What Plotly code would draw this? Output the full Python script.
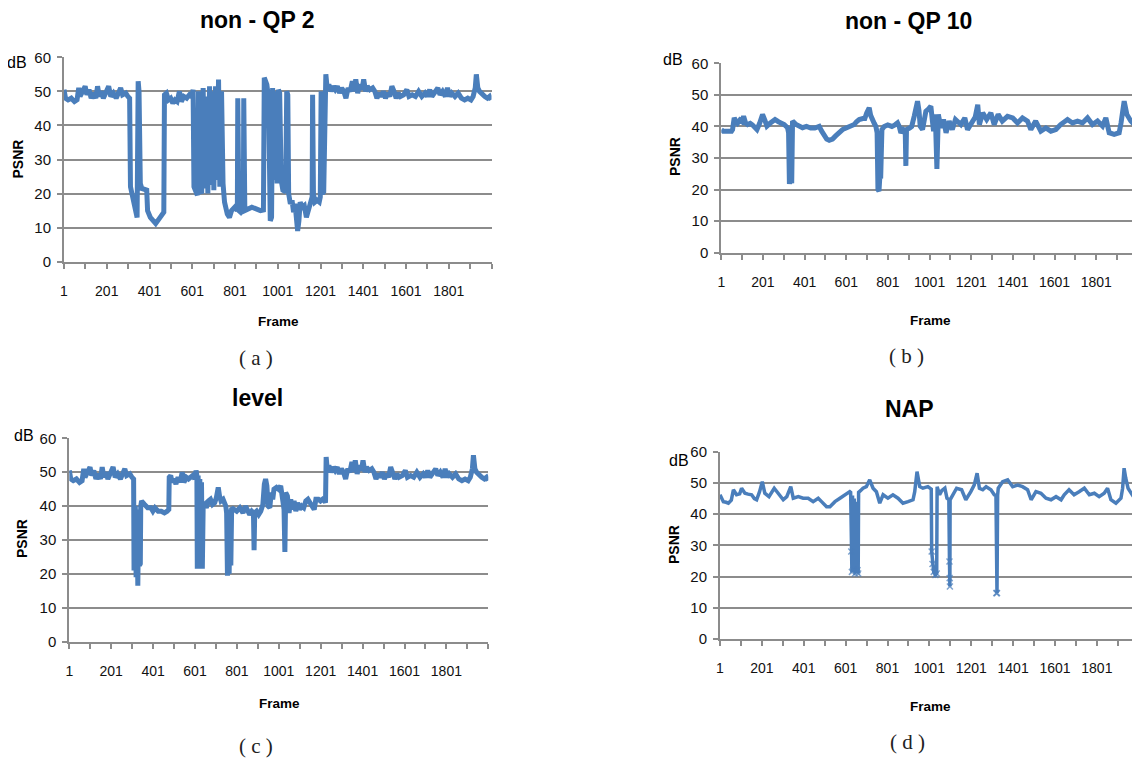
import plotly.graph_objects as go

# ---------------- data (frame, PSNR dB) ----------------
COMMON_START = [(1, 50.5), (8, 48), (20, 47.5), (35, 48), (50, 47), (62, 47.5), (70, 51), (76, 48.5),
                (88, 50), (100, 51.5), (108, 49), (118, 50.5), (128, 48), (140, 49.5), (150, 48),
                (158, 51.5), (166, 48.5), (175, 50), (185, 48), (196, 50), (210, 51.5), (220, 48.5),
                (232, 49.5), (245, 48), (255, 49.5), (266, 51), (275, 49), (290, 49.5), (300, 48.5),
                (306, 48)]

COMMON_END = [(1232, 51), (1240, 52), (1250, 50), (1260, 51.5), (1270, 50.5), (1280, 51.5), (1290, 49.5),
              (1300, 51), (1310, 50), (1320, 48), (1330, 51), (1340, 50), (1350, 53), (1358, 50),
              (1366, 53.5), (1375, 49.5), (1385, 52), (1395, 50.5), (1403, 53.5), (1412, 50), (1420, 51.5),
              (1432, 50.5), (1445, 51), (1455, 50), (1465, 48), (1475, 49.5), (1485, 48.5), (1495, 50),
              (1505, 48), (1515, 49.5), (1525, 48.5), (1535, 51.5), (1545, 50), (1555, 48), (1565, 49.5),
              (1575, 48.5), (1590, 49), (1605, 50.5), (1615, 48.5), (1630, 49), (1645, 48.5), (1660, 50),
              (1675, 48.5), (1690, 49.5), (1700, 48.5), (1712, 50.5), (1722, 48.5), (1735, 49.5),
              (1750, 51), (1760, 49), (1772, 50), (1785, 48.5), (1795, 51), (1805, 48.5), (1815, 49.5),
              (1830, 48.5), (1845, 49.5), (1860, 48), (1875, 47.5), (1890, 48), (1905, 47.5),
              (1915, 48.5), (1925, 51), (1930, 55), (1937, 51), (1945, 50), (1958, 49), (1970, 48.5),
              (1982, 48), (1992, 48.5), (2000, 47.5)]

A_MIDDLE = [(308, 48), (312, 22), (325, 18), (343, 13), (348, 53), (352, 50), (358, 23), (365, 21.5),
            (388, 21), (392, 15), (405, 13), (420, 12), (430, 11.2), (445, 12.5), (460, 14), (468, 14.5),
            (471, 49), (480, 49.5), (490, 47.5), (500, 48), (510, 46.5), (520, 47.5), (530, 47),
            (541, 50), (550, 47), (562, 48.5), (575, 48), (588, 49), (598, 48.5), (605, 50.5),
            (609, 22), (618, 20), (625, 19.5), (630, 50), (637, 21), (645, 20), (652, 51), (660, 21.5),
            (668, 48.5), (674, 20), (682, 51.5), (690, 22.5), (696, 50), (702, 21), (710, 51.5),
            (716, 24), (724, 53.5), (730, 22), (738, 50), (745, 23), (752, 17.5), (765, 14), (775, 13),
            (785, 15), (800, 16), (812, 15), (814, 48), (819, 15), (828, 14.5), (840, 15.5), (842, 48),
            (847, 15), (860, 15.5), (880, 16), (900, 15.5), (920, 15), (934, 15.2), (938, 54), (950, 52),
            (958, 48), (966, 12), (972, 13), (977, 51), (985, 24), (992, 50), (998, 23), (1004, 50.5),
            (1010, 49.5), (1017, 24), (1025, 21), (1038, 20.5), (1043, 50), (1048, 49), (1052, 20),
            (1060, 17), (1068, 18), (1075, 14.5), (1082, 17), (1088, 12), (1094, 9), (1100, 12),
            (1106, 17.5), (1115, 16), (1125, 16.5), (1135, 13), (1145, 15), (1155, 18), (1162, 19),
            (1164, 49), (1168, 20), (1175, 17.5), (1185, 18), (1195, 17.5), (1200, 19), (1204, 50),
            (1210, 20), (1216, 20.5), (1220, 50.5), (1226, 55)]

C_MIDDLE = [(308, 48), (310, 21), (316, 40), (320, 19), (325, 38), (328, 16.5), (332, 39), (336, 22.5),
            (340, 23), (342, 40), (346, 41.5), (360, 40.5), (375, 39.5), (390, 39.5), (400, 38.5),
            (410, 39.5), (425, 38.5), (440, 38.5), (455, 38), (468, 38.5), (476, 39), (478, 48.5),
            (485, 49), (492, 47), (500, 48), (510, 46.5), (520, 48.5), (530, 47), (540, 50), (548, 47),
            (560, 48.5), (570, 48), (580, 48.5), (590, 49), (600, 48), (606, 50.5), (610, 49),
            (612, 21.5), (616, 49), (620, 21.5), (624, 48), (628, 21.5), (632, 47), (636, 21.5),
            (640, 40), (648, 40.5), (655, 39.5), (665, 41.5), (675, 42), (685, 40.5), (695, 41),
            (703, 42.5), (712, 45.5), (718, 43), (725, 41.5), (735, 42), (748, 40), (752, 38),
            (756, 19.5), (760, 38), (764, 20), (768, 39), (772, 22.5), (776, 39.5), (790, 39),
            (800, 38.5), (815, 39.5), (830, 38), (842, 40), (852, 38.5), (862, 37.5), (872, 38.5),
            (880, 38), (883, 27), (886, 38), (895, 38.5), (905, 37.5), (915, 38.5), (925, 40.5),
            (932, 46.5), (938, 48), (944, 46), (950, 40), (958, 39.5), (965, 44), (972, 42), (978, 45),
            (990, 45.5), (1000, 45), (1010, 46), (1020, 41), (1026, 39), (1030, 26.5), (1034, 44),
            (1042, 43), (1050, 38), (1058, 42), (1066, 39), (1074, 41.5), (1082, 38.5), (1090, 41),
            (1100, 39), (1110, 40), (1120, 39.5), (1130, 41.5), (1140, 42), (1150, 41), (1160, 40),
            (1170, 39), (1178, 42), (1190, 42), (1200, 41.5), (1210, 42), (1220, 41.5), (1224, 41),
            (1227, 54.5)]

B_POINTS = [(1, 39), (10, 38.5), (30, 38.5), (50, 38.5), (55, 39), (63, 42.7), (72, 41.5), (79, 41),
            (90, 42), (100, 41.5), (108, 43.2), (118, 41), (127, 40.6), (140, 41), (150, 40.5),
            (160, 39.5), (172, 39), (185, 41), (199, 43.8), (210, 42), (220, 40.1), (235, 41),
            (245, 41.5), (259, 42.2), (275, 41.5), (290, 41), (303, 40.6), (319, 39.6), (324, 38),
            (328, 21.8), (334, 24), (339, 22), (343, 41.7), (360, 40.6), (375, 40), (391, 39.6),
            (410, 40), (430, 39.5), (450, 39.5), (471, 40), (483, 38.5), (495, 37), (507, 36),
            (519, 35.6), (535, 36), (550, 37), (559, 37.5), (570, 38.5), (583, 39), (600, 39.5),
            (615, 40), (630, 40.5), (639, 40.6), (650, 41.5), (663, 42.2), (680, 42.5), (690, 42.5),
            (699, 44.3), (711, 45.9), (718, 43.5), (724, 42.2), (735, 41), (743, 40), (749, 38),
            (753, 20), (758, 19.5), (762, 24), (766, 23.5), (772, 39), (783, 40), (800, 40.5),
            (820, 40), (835, 40.5), (847, 41.1), (855, 40), (863, 38), (875, 39), (884, 38.5),
            (887, 27.5), (890, 39), (905, 39.5), (915, 40), (927, 43.2), (935, 46.5), (943, 48),
            (950, 45), (956, 40), (967, 39), (975, 43), (983, 44.8), (995, 45.5), (1007, 46.4),
            (1014, 42), (1020, 38.5), (1025, 43.8), (1030, 40), (1036, 26.5), (1043, 43.8),
            (1055, 39.6), (1068, 42.2), (1080, 38), (1095, 41.7), (1110, 39), (1125, 42.2),
            (1151, 40.6), (1170, 42.7), (1183, 39), (1205, 41.7), (1220, 43), (1232, 46.9),
            (1240, 40.6), (1256, 44.3), (1275, 42.2), (1295, 44.3), (1311, 40.6), (1330, 43.8),
            (1350, 41.7), (1375, 43.2), (1400, 42.7), (1423, 41.1), (1447, 42.7), (1471, 41.7),
            (1487, 39), (1510, 41.7), (1535, 38.5), (1559, 39.5), (1583, 38.5), (1607, 39),
            (1630, 40.6), (1663, 42.2), (1687, 41.1), (1711, 41.7), (1735, 41.1), (1759, 42.7),
            (1783, 40.6), (1807, 41.7), (1831, 40.1), (1847, 42.7), (1863, 38), (1887, 37.5),
            (1911, 38), (1920, 41.1), (1935, 48), (1948, 43.8), (1967, 41.7), (1991, 40.1),
            (2000, 38.5)]

D_POINTS = [(1, 46.2), (10, 45), (17, 44), (30, 43.8), (41, 43.5), (55, 44.5), (65, 47.8), (80, 46.2),
            (95, 46.5), (104, 48.3), (120, 46.7), (135, 46.4), (152, 46.2), (165, 45), (176, 44.6),
            (190, 47.2), (203, 50.4), (215, 46.7), (235, 45.6), (260, 48.3), (282, 46.2), (303, 44.6),
            (320, 45.6), (339, 48.8), (351, 45.1), (375, 45.6), (398, 45.1), (422, 45.1), (446, 44),
            (470, 45.1), (486, 44), (510, 42.4), (526, 42.4), (550, 44), (574, 45.1), (597, 46.2),
            (621, 47.2), (625, 47), (628, 28), (631, 21.5), (634, 46), (638, 22), (642, 45), (646, 21),
            (650, 44), (654, 21.5), (658, 22), (661, 21), (663, 47), (672, 47.5), (684, 48.3),
            (700, 48.8), (716, 51), (732, 48.3), (748, 47.2), (764, 43.5), (780, 46.2), (803, 45.1),
            (827, 46.2), (851, 45.1), (875, 43.5), (899, 44), (923, 44.6), (931, 47.2), (942, 53.6),
            (955, 48.8), (970, 48.3), (994, 48.8), (1006, 48.3), (1010, 48), (1012, 28), (1016, 24),
            (1022, 21.5), (1030, 20.5), (1036, 21), (1038, 48.8), (1050, 46.2), (1060, 47.5),
            (1075, 48.3), (1085, 45.1), (1094, 44.6), (1097, 24.8), (1098, 19.5), (1099, 16.8),
            (1100, 44.6), (1115, 46.7), (1131, 48.3), (1155, 47.8), (1175, 44.6), (1199, 47.2),
            (1215, 49.3), (1229, 53.1), (1240, 48.3), (1256, 47.8), (1272, 48.8), (1295, 47.8),
            (1311, 46.2), (1319, 46), (1321, 14.7), (1324, 14.7), (1327, 46), (1330, 48.3),
            (1351, 50.4), (1375, 51), (1399, 48.8), (1423, 49.3), (1446, 48.8), (1470, 47.8),
            (1487, 44.6), (1510, 47.2), (1534, 46.7), (1558, 45.1), (1582, 44.6), (1606, 45.6),
            (1630, 44.6), (1645, 46.2), (1668, 47.8), (1692, 46.2), (1716, 47.2), (1741, 48.3),
            (1765, 46.2), (1789, 46.7), (1812, 45.6), (1836, 46.7), (1852, 48.3), (1868, 44.6),
            (1892, 43.5), (1916, 45.1), (1924, 48.3), (1931, 54.7), (1939, 51.5), (1950, 48.3),
            (1970, 46.2), (1994, 44), (2000, 44)]

A_POINTS = COMMON_START + A_MIDDLE + COMMON_END
C_POINTS = COMMON_START + C_MIDDLE + COMMON_END

TITLES = ["non - QP 2", "non - QP 10", "level", "NAP"]
CAPTIONS = ["( a )", "( b )", "( c )", "( d )"]
X_TICK_VALUES = list(range(1, 2002, 100))
X_TICK_LABELS = [str(v) if (v - 1) % 200 == 0 and v < 2000 else "" for v in X_TICK_VALUES]
Y_TICKS = [0, 10, 20, 30, 40, 50, 60]

# ---------------- styling ----------------
W, H = 1140, 758
OFF = 8  # the page shows the figure 8 px right and 8 px down
BLUE = "#4a7ebb"
GRID = "#8c8c8c"
NARROW = "Liberation Sans Narrow, Arial Narrow, Liberation Sans, Arial, sans-serif"
SANS = "Liberation Sans, Arial, sans-serif"
SERIF = "Liberation Serif, Times New Roman, serif"


def px(x):
    return (x - OFF) / W


def py(y):
    return 1 - (y - OFF) / H


# panel geometry in screen pixels: plot left, right, top (60 dB), bottom (0 dB), x-range end
PANELS = [
    dict(l=64.0, r=491.5, t=57.3, b=261.7, xmax=2001),
    dict(l=721.3, r=1140.0, t=63.3, b=252.7, xmax=2011),
    dict(l=69.3, r=488.3, t=438.3, b=641.7, xmax=2001),
    dict(l=720.0, r=1140.0, t=451.7, b=639.0, xmax=2007),
]

# text positions (screen pixel centres)
TEXT_POS = [
    dict(title=(257, 20), db=(17, 62), psnr=(17.5, 159), frame=(278.5, 322), cap=(256, 358)),
    dict(title=(908.7, 21), db=(673, 60), psnr=(675, 157), frame=(930, 320), cap=(906, 356)),
    dict(title=(257.5, 398), db=(24, 435.5), psnr=(22, 539), frame=(279.5, 703.5), cap=(256, 746)),
    dict(title=(909, 408.5), db=(679, 460), psnr=(674, 545), frame=(930, 706), cap=(907, 742)),
]

fig = go.Figure()
series = [A_POINTS, B_POINTS, C_POINTS, D_POINTS]
annotations = []

for i, (pts, geo, tp) in enumerate(zip(series, PANELS, TEXT_POS)):
    frames = [p[0] for p in pts]
    psnr = [p[1] for p in pts]
    n = "" if i == 0 else str(i + 1)
    is_nap = i == 3
    # NAP: small "x" markers are only visible where the curve dips
    msize = [6 if v < 35 else 0 for v in psnr] if is_nap else 0
    fig.add_trace(go.Scatter(
        x=frames, y=psnr, xaxis="x" + n, yaxis="y" + n,
        mode="lines+markers" if is_nap else "lines",
        line=dict(color=BLUE, width=3.5 if is_nap else 5),
        marker=dict(color=BLUE, size=msize, symbol="x-thin", line=dict(color=BLUE, width=1.5)),
        showlegend=False, hoverinfo="x+y",
    ))
    xa = dict(
        domain=[px(geo["l"]), min(1.0, px(geo["r"]))], range=[1, geo["xmax"]],
        anchor="y" + n, showgrid=False, zeroline=False, automargin=False,
        showline=True, linecolor=GRID, linewidth=2,
        ticks="outside", ticklen=5, tickwidth=2, tickcolor=GRID,
        tickmode="array", tickvals=X_TICK_VALUES, ticktext=X_TICK_LABELS,
        tickfont=dict(family=NARROW, size=14, color="#111111"),
        ticklabelstandoff=10,
    )
    ya = dict(
        domain=[py(geo["b"]), py(geo["t"])], range=[0, 60],
        anchor="x" + n, showgrid=True, gridcolor=GRID, gridwidth=2, zeroline=False, automargin=False,
        showline=True, linecolor=GRID, linewidth=2,
        ticks="outside", ticklen=5, tickwidth=2, tickcolor=GRID,
        tickmode="array", tickvals=Y_TICKS,
        tickfont=dict(family=NARROW, size=15, color="#111111"),
        ticklabelstandoff=3,
    )
    fig.update_layout(**{"xaxis" + n: xa, "yaxis" + n: ya})

    def ann(pos, text, font, angle=0):
        annotations.append(dict(
            x=px(pos[0]), y=py(pos[1]), xref="paper", yref="paper", text=text,
            showarrow=False, xanchor="center", yanchor="middle", textangle=angle, font=font))

    ann(tp["title"], "<b>" + TITLES[i] + "</b>", dict(family=NARROW, size=23, color="black"))
    ann(tp["db"], "dB", dict(family=SANS, size=16, color="black"))
    ann(tp["psnr"], "<b>PSNR</b>", dict(family=NARROW, size=14, color="black"), angle=-90)
    ann(tp["frame"], "<b>Frame</b>", dict(family=NARROW, size=13.5, color="black"))
    ann(tp["cap"], CAPTIONS[i], dict(family=SERIF, size=21, color="#222222"))

fig.update_layout(
    template="none",
    width=W, height=H, margin=dict(l=0, r=0, t=0, b=0, pad=0, autoexpand=False),
    paper_bgcolor="white", plot_bgcolor="white", showlegend=False,
    annotations=annotations,
)

fig.write_html("out.html")
